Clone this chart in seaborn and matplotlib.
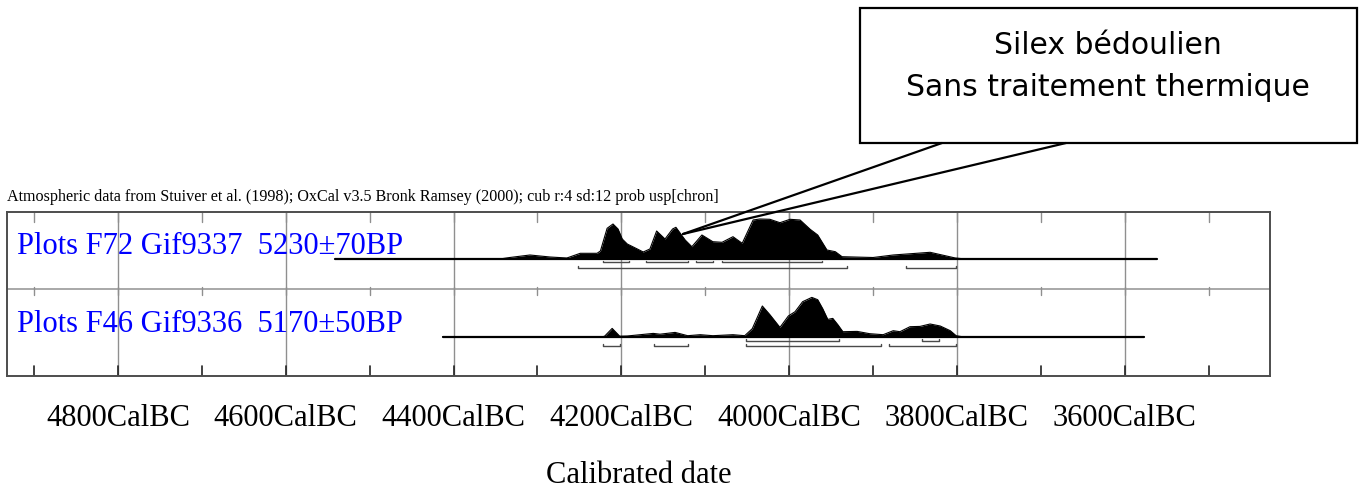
import numpy as np
import pandas as pd
import matplotlib
matplotlib.use("Agg")
import matplotlib.pyplot as plt
import seaborn as sns
from matplotlib.patches import Rectangle
from matplotlib.lines import Line2D

# ---------------- data (years as negative = BC) ----------------
major_years = [-4800, -4600, -4400, -4200, -4000, -3800, -3600]
tick_labels = ["4800CalBC", "4600CalBC", "4400CalBC", "4200CalBC",
               "4000CalBC", "3800CalBC", "3600CalBC"]
hundred_years = list(range(-4900, -3400, 100))

labels = ["Plots F72 Gif9337  5230\u00b170BP", "Plots F46 Gif9336  5170\u00b150BP"]

# sample 1 : F72 Gif9337 (relative probability)
years1 = [-4541, -4345, -4333, -4309, -4285, -4265, -4249, -4229, -4225, -4217,
          -4210, -4204, -4199, -4193, -4181, -4174, -4166, -4158, -4148, -4139,
          -4135, -4124, -4116, -4104, -4091, -4080, -4067, -4056, -4043, -4035,
          -4023, -4011, -3999, -3987, -3975, -3966, -3955, -3945, -3937, -3900,
          -3876, -3832, -3802, -3790, -3562]
prob1 = [0, 0, 1.5, 4, 2, 1, 5.7, 5.7, 8, 30.7,
         35, 30, 20, 15, 10, 7, 10, 28, 20, 30,
         31.7, 19, 12.3, 24, 17.3, 16.7, 22.3, 15.7, 39, 40,
         39.7, 36.3, 39.7, 39, 29.7, 24, 9, 7.3, 2.3, 1.5,
         4, 6.7, 1, 0, 0]

# sample 2 : F46 Gif9336 (relative probability)
years2 = [-4413, -4222, -4220, -4211, -4202, -4193, -4162, -4154, -4136, -4121,
          -4106, -4091, -4067, -4053, -4044, -4032, -4023, -4011, -4001, -3993,
          -3984, -3973, -3966, -3960, -3954, -3948, -3942, -3936, -3919, -3904,
          -3888, -3876, -3868, -3856, -3844, -3832, -3820, -3808, -3801, -3794,
          -3577]
prob2 = [0, 0, 0.5, 8.3, 0.5, 0.7, 3.3, 2.5, 4.3, 1,
         2, 1, 2, 1, 8, 30.7, 22, 9.3, 20.7, 25,
         35, 39.3, 37, 28, 17.3, 18.3, 12, 5, 5.3, 3,
         2, 6, 5, 10, 10.3, 12.7, 10.7, 6, 1, 0,
         0]

# highest posterior density ranges (68.2% row, 95.4% row)
ranges1_68 = [(-4222, -4191), (-4171, -4121), (-4111, -4091), (-4080, -3961)]
ranges1_95 = [(-4252, -3931), (-3861, -3801)]
ranges2_68 = [(-4051, -3941), (-3842, -3821)]
ranges2_95 = [(-4222, -4202), (-4161, -4121), (-4051, -3891), (-3881, -3801)]

# ---------------- figure ----------------
sns.set_theme(style="white")
plt.rcParams["font.family"] = ["Liberation Serif", "DejaVu Serif"]
plt.rcParams["text.color"] = "black"
plt.rcParams["xtick.color"] = "black"
plt.rcParams["axes.labelcolor"] = "black"

W, H = 1367, 491
fig = plt.figure(figsize=(W / 100, H / 100), dpi=100)
ax = fig.add_axes([7 / W, (H - 376) / H, 1263 / W, 164 / H])
ax.set_xlim(-4932.3, -3426.9)
ax.set_ylim(0, 164)

grid_c = "#8f8f8f"
for yr in major_years:
    ax.axvline(yr, color=grid_c, lw=1.0, zorder=1)
ax.axhline(87, color="#9a9a9a", lw=1.2, zorder=1)

# minor ticks
for yr in hundred_years:
    ax.plot([yr, yr], [164, 154], color=grid_c, lw=1.0, zorder=1)
    ax.plot([yr, yr], [89.5, 81], color=grid_c, lw=1.0, zorder=1)
    ax.plot([yr, yr], [0, 10], color="#222222", lw=1.2, zorder=2)

base = [117, 39.3]
rows = [(113.7, 108.3), (35.0, 30.0)]
series = [(years1, prob1, ranges1_68, ranges1_95),
          (years2, prob2, ranges2_68, ranges2_95)]

for i, (yrs, pr, r68, r95) in enumerate(series):
    b = base[i]
    df = pd.DataFrame({"year": yrs, "p": np.array(pr) + b})
    ax.fill_between(df["year"], b, df["p"], color="black", lw=0, zorder=3)
    sns.lineplot(data=df, x="year", y="p", color="black", lw=0.8, ax=ax,
                 sort=False, estimator=None, zorder=3)
    ax.plot([yrs[0], yrs[-1]], [b, b], color="black", lw=1.6, zorder=3)
    for (ry, rr) in zip(rows[i], (r68, r95)):
        for (a, c) in rr:
            ax.plot([a, a, c, c], [ry + 1.8, ry, ry, ry + 1.8],
                    color="#4a4a4a", lw=1.0, zorder=3)
    ax.text(-4920.4, b + 5, labels[i], color="#0000ff", fontsize=22,
            va="baseline", ha="left", zorder=4)

for s in ax.spines.values():
    s.set_color("#4d4d4d")
    s.set_linewidth(1.4)
    s.set_visible(True)

ax.set_yticks([])
ax.set_xticks(major_years)
ax.set_xticklabels(tick_labels, fontsize=22, color="black")
ax.tick_params(axis="x", length=0, pad=20)
ax.set_xlabel("Calibrated date", fontsize=22, labelpad=20, color="black")
ax.set_ylabel("")

ax.text(0.0, 179, "Atmospheric data from Stuiver et al. (1998); OxCal v3.5 Bronk Ramsey (2000); cub r:4 sd:12 prob usp[chron]",
        transform=ax.get_yaxis_transform(), fontsize=11.6, va="center", ha="left",
        color="black", clip_on=False)

# callout
def fx(px):
    return px / W

def fy(py):
    return 1 - py / H

fig.add_artist(Rectangle((fx(860), fy(143)), fx(1357) - fx(860), fy(8) - fy(143),
                         transform=fig.transFigure, facecolor="white",
                         edgecolor="black", lw=1.6, zorder=5))
for sx in (942, 1066):
    fig.add_artist(Line2D([fx(sx), fx(683)], [fy(143), fy(234)],
                          transform=fig.transFigure, color="black", lw=1.6, zorder=6))
fig.text(fx(1108), fy(45), "Silex bédoulien", fontsize=21.5, ha="center", va="center",
         family=["DejaVu Sans"], color="black", zorder=7)
fig.text(fx(1108), fy(88), "Sans traitement thermique", fontsize=21.5, ha="center",
         va="center", family=["DejaVu Sans"], color="black", zorder=7)

fig.savefig("out.png", dpi=100)
